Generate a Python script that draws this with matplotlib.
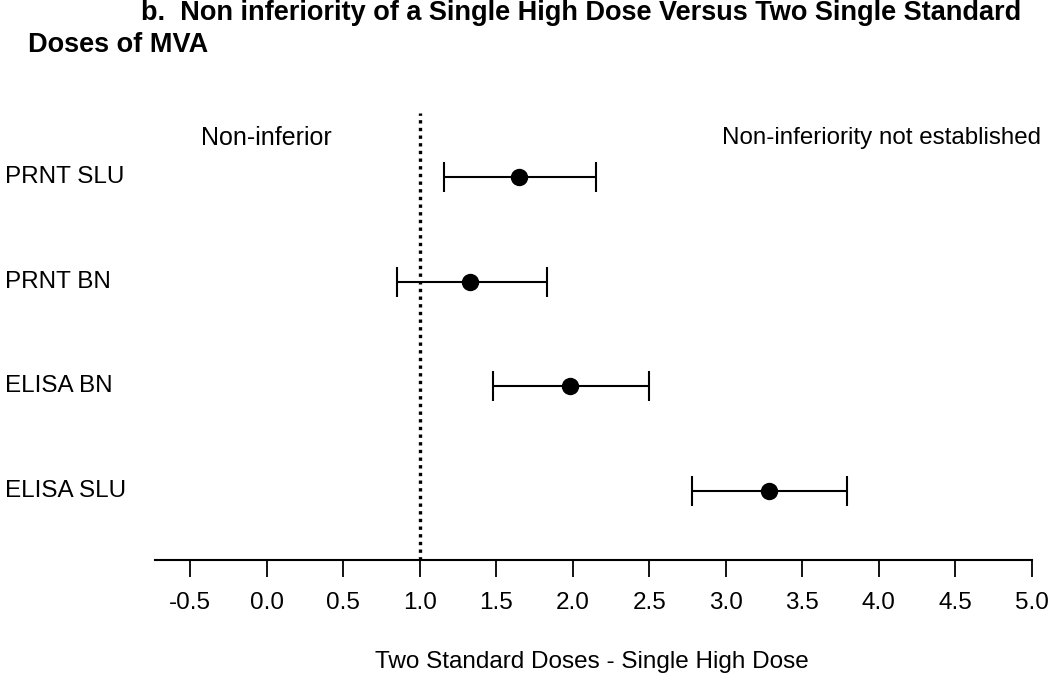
import matplotlib
matplotlib.use("Agg")
import matplotlib.pyplot as plt

plt.rcParams['font.family'] = ['Liberation Sans', 'DejaVu Sans']

categories = ["PRNT SLU", "PRNT BN", "ELISA BN", "ELISA SLU"]
estimates = [1.65, 1.33, 1.98, 3.28]
lower = [1.16, 0.85, 1.48, 2.78]
upper = [2.15, 1.83, 2.50, 3.79]
ticks = [-0.5, 0.0, 0.5, 1.0, 1.5, 2.0, 2.5, 3.0, 3.5, 4.0, 4.5, 5.0]
tick_labels = ["-0.5", "0.0", "0.5", "1.0", "1.5", "2.0", "2.5", "3.0", "3.5", "4.0", "4.5", "5.0"]
margin = 1.0

W, H = 1050, 679
fig = plt.figure(figsize=(W / 100, H / 100), dpi=100)

# axes in pixel coordinates
ax_l, ax_r, ax_t, ax_b = 155, 1050, 100, 560
ax = fig.add_axes([ax_l / W, 1 - ax_b / H, (ax_r - ax_l) / W, (ax_b - ax_t) / H])

px_per_unit = (1032 - 190) / 5.5
def px2x(px):
    return -0.5 + (px - 190) / px_per_unit

ax.set_xlim(px2x(ax_l), px2x(ax_r))
row_sp = (491 - 177) / 3
ax.set_ylim(1 - (ax_b - 491) / row_sp, 4 + (177 - ax_t) / row_sp)

ypos = [4, 3, 2, 1]
xerr = [[e - l for e, l in zip(estimates, lower)], [u - e for e, u in zip(estimates, upper)]]
ax.errorbar(estimates, ypos, xerr=xerr, fmt='o', color='black', ecolor='black',
            markersize=11.5, elinewidth=1.5, capsize=11, capthick=1.5, zorder=3)

ax.axvline(margin, ymin=0, ymax=(ax_b - 113) / (ax_b - ax_t), color='black',
           linestyle=(0, (1.0, 1.3)), linewidth=2.4, zorder=1)

for s in ['top', 'right', 'left']:
    ax.spines[s].set_visible(False)
ax.spines['bottom'].set_linewidth(1.5)
ax.spines['bottom'].set_bounds(px2x(155), 5.0)
ax.set_yticks([])
ax.set_xticks(ticks)
ax.set_xticklabels(tick_labels, fontsize=17.5)
ax.tick_params(axis='x', length=12, width=1.3, pad=11, direction='out')

# row labels
for cat, y in zip(categories, ypos):
    ax.text(px2x(5), y, cat, fontsize=17.5, ha='left', va='center', clip_on=False)

ax.text(0.0, 4 + (177 - 138) / row_sp, "Non-inferior", fontsize=18, ha='center', va='center')
ax.text(px2x(722), 4 + (177 - 138) / row_sp, "Non-inferiority not established",
        fontsize=17.4, ha='left', va='center', clip_on=False)

fig.text(592 / W, 1 - 662 / H, "Two Standard Doses - Single High Dose", fontsize=17.5,
         ha='center', va='center')

fig.text(141 / W, 1 - 20 / H, "b.  Non inferiority of a Single High Dose Versus Two Single Standard",
         fontsize=19.5, fontweight='bold', ha='left', va='baseline')
fig.text(28 / W, 1 - 52 / H, "Doses of MVA", fontsize=19.5, fontweight='bold', ha='left', va='baseline')

fig.savefig("out.png", dpi=100)
